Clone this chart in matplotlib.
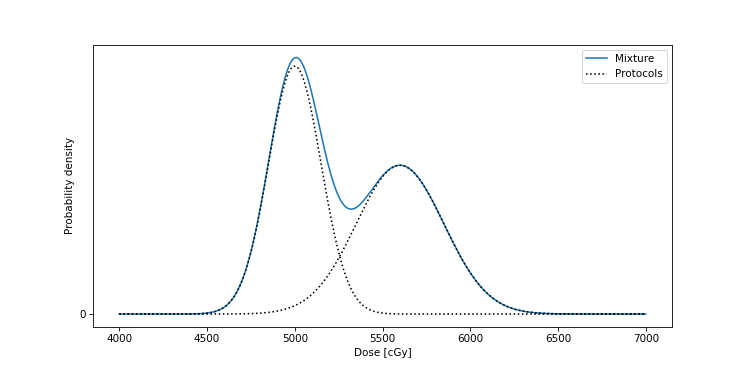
import numpy as np
import matplotlib
matplotlib.use("Agg")
import matplotlib.pyplot as plt

# Mixture of two dose protocols
dose_min, dose_max = 4000, 7000
means = [5000, 5600]      # cGy
sds = [150, 250]          # cGy
weights = [0.5, 0.5]


def normal_pdf(x, mu, sd):
    return np.exp(-0.5 * ((x - mu) / sd) ** 2) / (sd * np.sqrt(2 * np.pi))


x = np.linspace(dose_min, dose_max, 1000)
parts = [w * normal_pdf(x, m, s) for m, s, w in zip(means, sds, weights)]
mixture = np.sum(parts, axis=0)

fig, ax = plt.subplots(figsize=(747 / 75, 374 / 75), dpi=75)
fig.subplots_adjust(left=0.1245, right=0.8996, top=0.8805, bottom=0.126)
ax.plot(x, mixture, color="#1f77b4", label="Mixture")
for i, p in enumerate(parts):
    ax.plot(x, p, ":", color="black", label="Protocols" if i == 0 else None)

ax.set_yticks([0])
ax.set_xlabel("Dose [cGy]")
ax.set_ylabel("Probability density")
ax.legend(loc="upper right")

fig.savefig("out.png", dpi=75)
